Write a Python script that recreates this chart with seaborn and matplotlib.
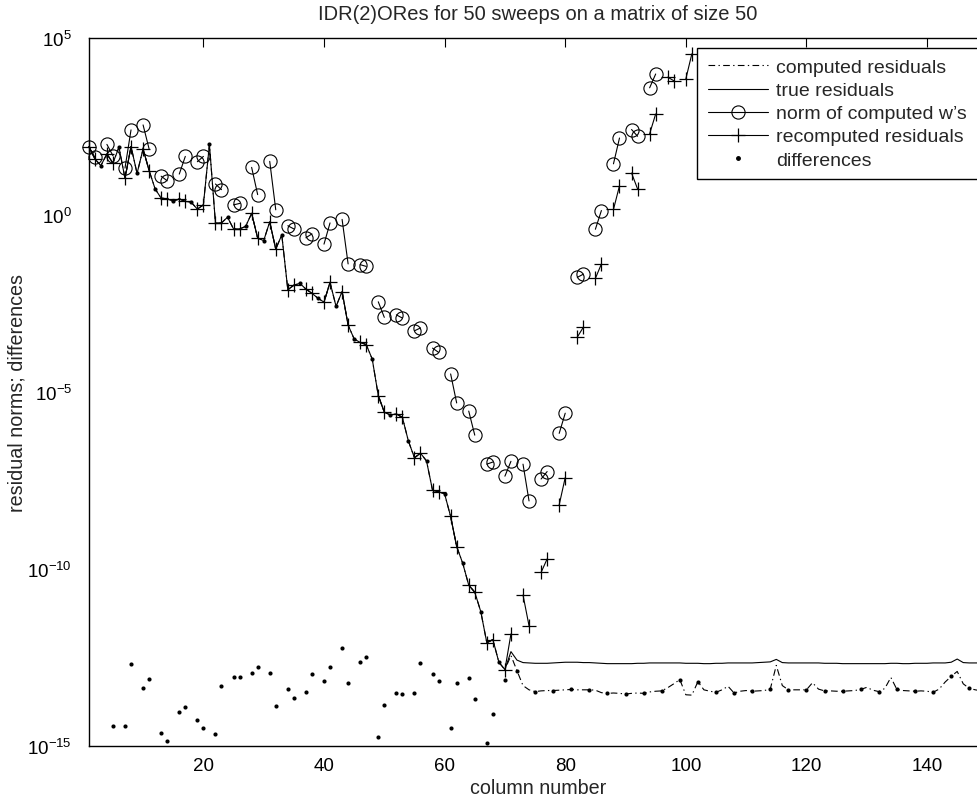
import numpy as np
import pandas as pd
import matplotlib.pyplot as plt
import seaborn as sns
from matplotlib.lines import Line2D
from matplotlib.ticker import FixedLocator, NullLocator, LogFormatterSciNotation

sns.set_style("white")
plt.rcParams['font.family'] = ['Liberation Sans', 'DejaVu Sans']
plt.rcParams['mathtext.default'] = 'regular'

# log10 of the residual norm, columns 1..70 (true, computed and recomputed agree here)
res_early = [1.94, 1.59, 1.40, 1.73, 1.47, 1.92, 1.04, 1.94, 1.18, 1.87,
             1.26, 0.74, 0.48, 0.46, 0.39, 0.46, 0.39, 0.36, 0.17, 0.29,
             2.00, -0.22, -0.22, -0.06, -0.39, -0.39, -0.32, 0.05, -0.65, -0.72,
             -0.19, -0.96, -0.56, -2.11, -1.98, -1.93, -2.09, -2.21, -2.35, -2.46,
             -1.90, -2.58, -2.16, -3.11, -3.50, -3.60, -3.66, -4.07, -5.10, -5.57,
             -5.65, -5.62, -5.72, -6.39, -6.86, -6.73, -6.95, -7.78, -7.82, -7.88,
             -8.52, -9.37, -9.84, -10.46, -10.66, -11.21, -12.09, -12.00, -12.64, -12.85]

# columns 71..150
true_tail = [-12.34, -12.58, -12.65, -12.66, -12.67, -12.67, -12.67, -12.66, -12.65, -12.64,
             -12.64, -12.64, -12.65, -12.65, -12.66, -12.67, -12.68, -12.68, -12.68, -12.68,
             -12.68, -12.67, -12.67, -12.66, -12.66, -12.66, -12.66, -12.66, -12.66, -12.67,
             -12.67, -12.67, -12.68, -12.68, -12.67, -12.67, -12.66, -12.66, -12.66, -12.66,
             -12.66, -12.65, -12.64, -12.63, -12.56, -12.65, -12.66, -12.66, -12.66, -12.66,
             -12.66, -12.66, -12.67, -12.67, -12.67, -12.68, -12.68, -12.68, -12.68, -12.68,
             -12.68, -12.68, -12.68, -12.67, -12.67, -12.68, -12.68, -12.67, -12.67, -12.67,
             -12.66, -12.66, -12.66, -12.64, -12.55, -12.65, -12.66, -12.66, -12.66, -12.66]

comp_tail = [-12.45, -12.88, -13.30, -13.42, -13.47, -13.45, -13.44, -13.44, -13.43, -13.42,
             -13.41, -13.42, -13.42, -13.42, -13.43, -13.50, -13.52, -13.51, -13.52, -13.54,
             -13.52, -13.51, -13.52, -13.48, -13.46, -13.45, -13.36, -13.25, -13.13, -13.56,
             -13.57, -13.19, -13.42, -13.46, -13.49, -13.42, -13.32, -13.51, -13.46, -13.44,
             -13.46, -13.45, -13.44, -13.40, -12.73, -13.30, -13.42, -13.42, -13.42, -13.42,
             -13.22, -13.40, -13.45, -13.45, -13.46, -13.46, -13.45, -13.44, -13.41, -13.35,
             -13.43, -13.47, -13.38, -13.07, -13.41, -13.44, -13.45, -13.46, -13.45, -13.46,
             -13.49, -13.40, -13.20, -13.04, -12.90, -13.25, -13.38, -13.42, -13.45, -13.45]

recomp_tail_cols = [71, 73, 74, 76, 77, 79, 80, 82, 83, 85, 86, 88, 89, 91, 92, 94, 95, 97, 98, 100, 101]
recomp_tail = [-11.84, -10.74, -11.61, -10.10, -9.72, -8.19, -7.42, -3.45, -3.17, -1.79, -1.38,
               0.16, 0.83, 1.19, 0.74, 2.30, 2.86, 3.90, 3.80, 3.85, 4.56]

w_cols = [1, 2, 4, 5, 7, 8, 10, 11, 13, 14, 16, 17, 19, 20, 22, 23, 25, 26, 28, 29,
          31, 32, 34, 35, 37, 38, 40, 41, 43, 44, 46, 47, 49, 50, 52, 53, 55, 56, 58, 59,
          61, 62, 64, 65, 67, 68, 70, 71, 73, 74, 76, 77, 79, 80, 82, 83, 85, 86, 88, 89,
          91, 92, 94, 95]
w_norm = [1.94, 1.635, 2.00, 1.68, 1.33, 2.41, 2.55, 1.87, 1.10, 0.97, 1.16, 1.66, 1.51, 1.66,
          0.88, 0.72, 0.29, 0.33, 1.35, 0.58, 1.52, 0.15, -0.30, -0.39, -0.64, -0.53, -0.82, -0.22,
          -0.12, -1.38, -1.40, -1.45, -2.45, -2.89, -2.82, -2.91, -3.27, -3.19, -3.76, -3.88,
          -4.49, -5.31, -5.54, -6.22, -7.04, -6.98, -7.38, -6.96, -7.04, -8.08, -7.46, -7.25,
          -6.17, -5.60, -1.76, -1.67, -0.40, 0.13, 1.45, 2.18, 2.42, 2.23, 3.60, 3.99]

diff_cols = [5, 7, 8, 10, 11, 13, 14, 16, 17, 19, 20, 22, 23, 25, 26, 28, 29, 31, 32, 34,
             35, 37, 38, 40, 41, 43, 44, 46, 47, 49, 50, 52, 53, 55, 56, 58, 59, 61, 62, 64,
             65, 67, 68, 70]
diff_vals = [-14.44, -14.44, -12.70, -13.37, -13.11, -14.65, -14.87, -14.05, -13.90, -14.26,
             -14.50, -14.68, -13.30, -13.07, -13.05, -12.95, -12.77, -12.94, -13.89, -13.40,
             -13.65, -13.48, -12.96, -13.18, -12.78, -12.23, -13.24, -12.62, -12.50, -14.75,
             -13.84, -13.52, -13.55, -13.52, -12.66, -12.97, -13.18, -14.49, -13.22, -13.09,
             -13.68, -14.92, -14.10, -13.14]

cols = np.arange(1, 151)
true_log = np.array(res_early + true_tail)
comp_log = np.array(res_early + comp_tail)

early_cols = [c for c in range(1, 71) if c % 3 != 0]
rc_cols = np.array(early_cols + recomp_tail_cols)
rc_log = np.array([res_early[c - 1] for c in early_cols] + recomp_tail)

df_main = pd.DataFrame({"col": cols, "true": 10.0 ** true_log, "comp": 10.0 ** comp_log})
df_rc = pd.DataFrame({"col": rc_cols, "val": 10.0 ** rc_log, "pair": (rc_cols - 1) // 3})
w_cols = np.array(w_cols)
df_w = pd.DataFrame({"col": w_cols, "val": 10.0 ** np.array(w_norm), "pair": (w_cols - 1) // 3})
df_diff = pd.DataFrame({"col": diff_cols, "val": 10.0 ** np.array(diff_vals)})
df_dots = df_main[df_main["col"] % 3 == 0]

fig = plt.figure(figsize=(9.77, 8.03), dpi=100)
ax = fig.add_axes([0.0909, 0.0701, 0.9197, 0.881])
ax.set_yscale("log")

dashdot = (0, (6, 3, 1.2, 3))
lw = 0.8
sns.lineplot(data=df_main, x="col", y="comp", ax=ax, color="k", lw=lw,
             linestyle=dashdot, estimator=None)
sns.lineplot(data=df_main, x="col", y="true", ax=ax, color="k", lw=lw, estimator=None)
sns.lineplot(data=df_w, x="col", y="val", units="pair", estimator=None, ax=ax, color="k",
             lw=lw, marker="o", ms=9.5, mfc="none", mec="k", mew=0.8, clip_on=False)
sns.lineplot(data=df_rc, x="col", y="val", units="pair", estimator=None, ax=ax, color="k",
             lw=lw, marker="+", ms=9.5, mec="k", mew=0.9, clip_on=False)
sns.scatterplot(data=df_diff, x="col", y="val", ax=ax, color="k", s=9, linewidth=0)
sns.scatterplot(data=df_dots, x="col", y="comp", ax=ax, color="k", s=9, linewidth=0)

ax.set_xlim(1, 150)
ax.set_ylim(1e-15, 1e5)
ax.xaxis.set_major_locator(FixedLocator([20, 40, 60, 80, 100, 120, 140]))
ax.yaxis.set_major_locator(FixedLocator([1e-15, 1e-10, 1e-5, 1e0, 1e5]))
ax.yaxis.set_major_formatter(LogFormatterSciNotation())
ax.yaxis.set_minor_locator(NullLocator())
ax.tick_params(direction="in", top=True, right=True, length=6.5, width=0.8,
               labelsize=13.5, colors="k")
ax.tick_params(axis="y", pad=12)
ax.tick_params(axis="x", pad=8)
for s in ax.spines.values():
    s.set_color("k")
    s.set_linewidth(1.0)

ax.set_xlabel("column number", fontsize=14.2, labelpad=3)
ax.set_ylabel("residual norms; differences", fontsize=14.2, labelpad=0.5)
ax.set_title("IDR(2)ORes for 50 sweeps on a matrix of size 50", fontsize=14.5, pad=14)

handles = [
    Line2D([], [], color="k", lw=lw, linestyle=dashdot),
    Line2D([], [], color="k", lw=lw),
    Line2D([], [], color="k", lw=lw, marker="o", ms=9.5, mfc="none", mew=0.8),
    Line2D([], [], color="k", lw=lw, marker="+", ms=9.5, mew=0.9),
    Line2D([], [], color="k", ls="none", marker=".", ms=5),
]
labels = ["computed residuals", "true residuals", "norm of computed w\u2019s",
          "recomputed residuals", "differences"]
leg = ax.legend(handles, labels, loc="upper right", fontsize=14, frameon=True,
                fancybox=False, framealpha=1, edgecolor="k", handlelength=3.1,
                handletextpad=0.4, labelspacing=0.28, borderpad=0.55, borderaxespad=0.5)
leg.get_frame().set_linewidth(1.0)

fig.savefig("out.png", dpi=100)
